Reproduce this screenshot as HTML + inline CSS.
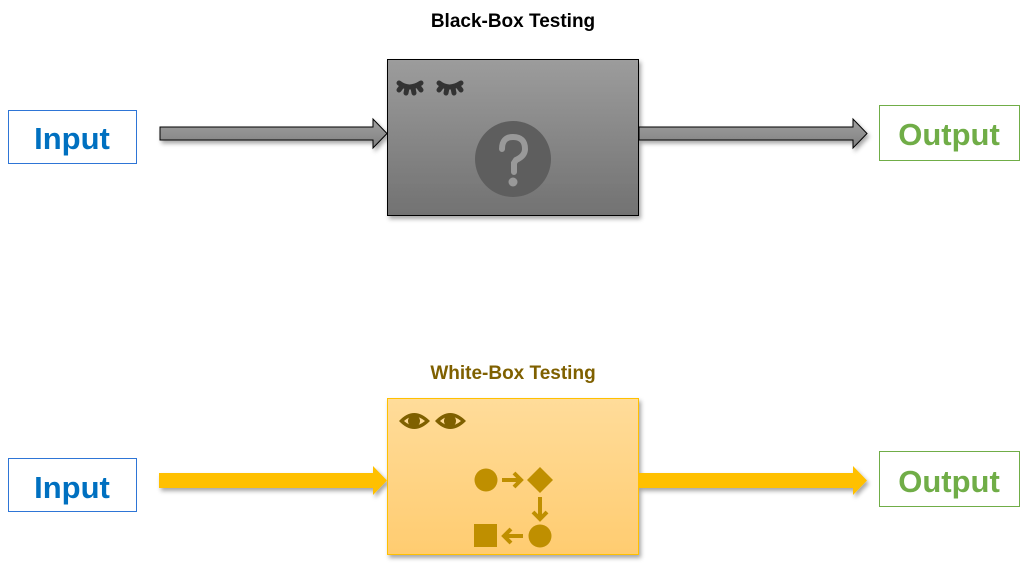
<!DOCTYPE html>
<html><head><meta charset="utf-8"><style>
html,body{margin:0;padding:0;background:#fff;width:1029px;height:566px;overflow:hidden}
</style></head><body>
<svg width="1029" height="566" viewBox="0 0 1029 566" xmlns="http://www.w3.org/2000/svg" font-family="Liberation Sans, sans-serif">
<defs>
<linearGradient id="g1" x1="0" y1="0" x2="0" y2="1"><stop offset="0" stop-color="#9c9c9c"/><stop offset="1" stop-color="#727272"/></linearGradient>
<linearGradient id="ga" x1="0" y1="0" x2="0" y2="1"><stop offset="0" stop-color="#a0a0a0"/><stop offset="1" stop-color="#808080"/></linearGradient>
<linearGradient id="g2" x1="0" y1="0" x2="0" y2="1"><stop offset="0" stop-color="#ffdc9a"/><stop offset="1" stop-color="#ffcc70"/></linearGradient>
<filter id="sh"><feDropShadow dx="2" dy="3" stdDeviation="2" flood-opacity="0.35"/></filter>
</defs>
<text x="513" y="27" text-anchor="middle" font-size="19" font-weight="bold" fill="#000">Black-Box Testing</text>
<text x="513" y="379" text-anchor="middle" font-size="19" font-weight="bold" fill="#7f6000">White-Box Testing</text>

<rect x="8.5" y="110.5" width="128" height="53" fill="#fff" stroke="#2e75d6"/>
<text x="72" y="149" text-anchor="middle" font-size="31" font-weight="bold" fill="#0070c0">Input</text>
<rect x="879.5" y="105.5" width="140" height="55" fill="#fff" stroke="#70ad47"/>
<text x="949" y="145" text-anchor="middle" font-size="31" font-weight="bold" fill="#70ad47">Output</text>
<rect x="8.5" y="458.5" width="128" height="53" fill="#fff" stroke="#2e75d6"/>
<text x="72" y="498" text-anchor="middle" font-size="31" font-weight="bold" fill="#0070c0">Input</text>
<rect x="879.5" y="451.5" width="140" height="55" fill="#fff" stroke="#70ad47"/>
<text x="949" y="492" text-anchor="middle" font-size="31" font-weight="bold" fill="#70ad47">Output</text>

<g filter="url(#sh)">
<polygon points="160,127 373,127 373,119 387,133.5 373,148 373,140 160,140" fill="url(#ga)" stroke="#000" stroke-width="1"/>
<polygon points="639,127 853,127 853,119 867,133.5 853,148 853,140 639,140" fill="url(#ga)" stroke="#000" stroke-width="1"/>
<rect x="387.5" y="59.5" width="251" height="156" fill="url(#g1)" stroke="#000"/>
<polygon points="159,473 373,473 373,466 387,480.5 373,495 373,488 159,488" fill="#ffc000"/>
<polygon points="639,473 853,473 853,466 867,480.5 853,495 853,488 639,488" fill="#ffc000"/>
<rect x="387.5" y="398.5" width="251" height="156" fill="url(#g2)" stroke="#ffc000"/>
</g>

<!-- closed eyes -->
<g fill="none" stroke="#333" stroke-width="5" stroke-linecap="round">
<path d="M399,83 Q409,91 421,83"/><path d="M402,86 l-3,4 M407,88 l-1,5 M413,88 l1,5 M418,86 l3,4"/>
<path d="M439,83 Q449,91 461,83"/><path d="M442,86 l-3,4 M447,88 l-1,5 M453,88 l1,5 M458,86 l3,4"/>
</g>
<circle cx="513" cy="159" r="38" fill="#5e5e5e"/>
<path d="M502,149 Q502,137 513,137 Q525,137 525,149 Q525,156 516,160 L514,163 L514,172" fill="none" stroke="#999" stroke-width="6" stroke-linecap="round"/>
<circle cx="513" cy="182" r="4.5" fill="#999"/>

<!-- open eyes -->
<g fill="#7f6000">
<path d="M399,421 Q414,405 430,421 Q414,437 399,421 Z M404,421 Q414,430 425,421 Q414,412 404,421 Z" fill-rule="evenodd"/>
<circle cx="414" cy="421" r="6"/>
<path d="M435,421 Q450,405 466,421 Q450,437 435,421 Z M440,421 Q450,430 461,421 Q450,412 440,421 Z" fill-rule="evenodd"/>
<circle cx="450" cy="421" r="6"/>
</g>
<!-- flow -->
<g fill="#bf8f00">
<circle cx="486" cy="480" r="11.5"/>
<polygon points="540,467 553,480 540,493 527,480"/>
<circle cx="540" cy="536" r="11.5"/>
<rect x="474" y="524" width="23" height="23"/>
</g>
<g fill="none" stroke="#bf8f00" stroke-width="4">
<path d="M502,480 H521 M514,473 l7,7 l-7,7"/>
<path d="M540,497 V519 M533,512 l7,7 l7,-7"/>
<path d="M523,536 H504 M511,529 l-7,7 l7,7"/>
</g>
</svg>
</body></html>
